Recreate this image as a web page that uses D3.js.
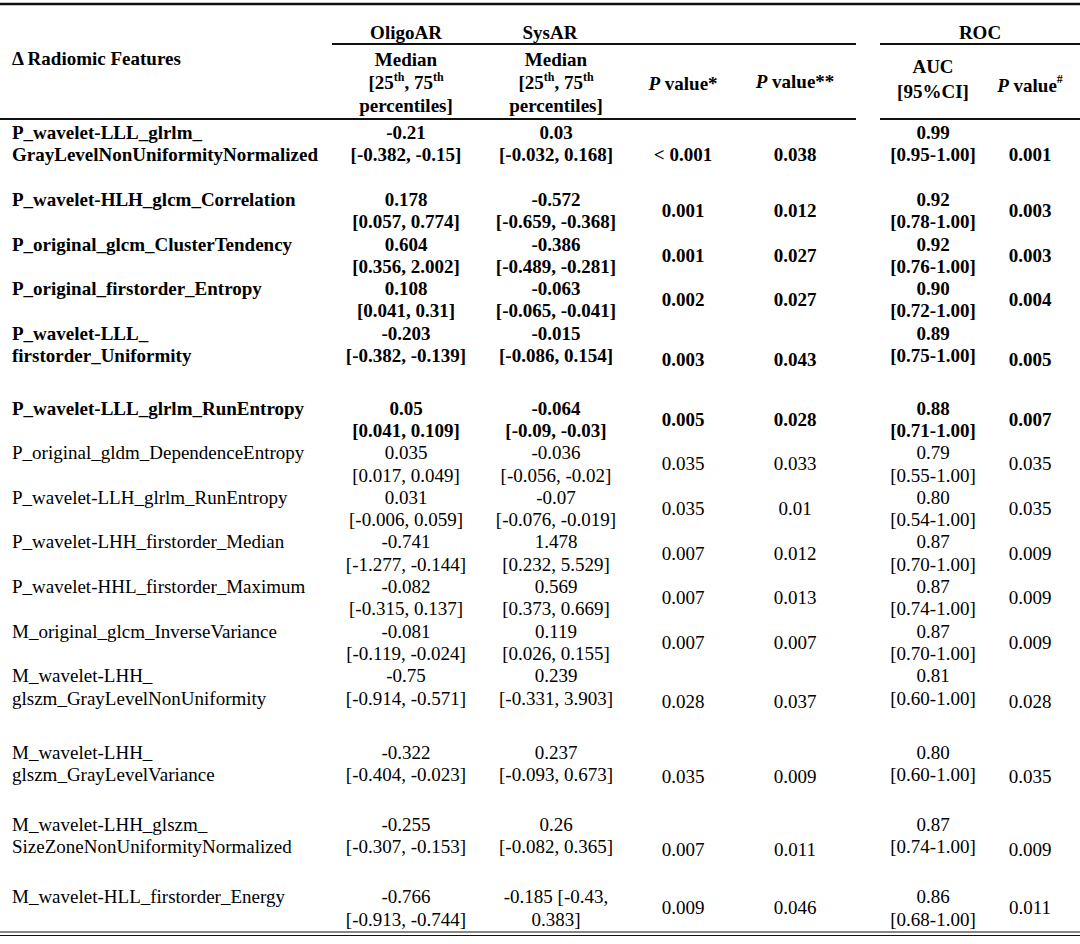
<!DOCTYPE html>
<html>
<head>
<meta charset="utf-8">
<script src="https://cdn.jsdelivr.net/npm/d3@7"></script>
<style>
  body { margin: 0; background: #fff; }
  text { font-family: "Liberation Serif", "Times New Roman", serif; fill: #000; }
</style>
</head>
<body>
<div id="table"></div>
<script>
// table values
const features = [
    "P_wavelet-LLL_glrlm_\nGrayLevelNonUniformityNormalized",
    "P_wavelet-HLH_glcm_Correlation",
    "P_original_glcm_ClusterTendency",
    "P_original_firstorder_Entropy",
    "P_wavelet-LLL_\nfirstorder_Uniformity",
    "P_wavelet-LLL_glrlm_RunEntropy",
    "P_original_gldm_DependenceEntropy",
    "P_wavelet-LLH_glrlm_RunEntropy",
    "P_wavelet-LHH_firstorder_Median",
    "P_wavelet-HHL_firstorder_Maximum",
    "M_original_glcm_InverseVariance",
    "M_wavelet-LHH_\nglszm_GrayLevelNonUniformity",
    "M_wavelet-LHH_\nglszm_GrayLevelVariance",
    "M_wavelet-LHH_glszm_\nSizeZoneNonUniformityNormalized",
    "M_wavelet-HLL_firstorder_Energy"
];
const significant = [true, true, true, true, true, true, false, false, false, false, false, false, false, false, false];
const oligoMedian = ["-0.21", "0.178", "0.604", "0.108", "-0.203", "0.05", "0.035", "0.031", "-0.741", "-0.082", "-0.081", "-0.75", "-0.322", "-0.255", "-0.766"];
const oligoIQR = ["[-0.382, -0.15]", "[0.057, 0.774]", "[0.356, 2.002]", "[0.041, 0.31]", "[-0.382, -0.139]", "[0.041, 0.109]", "[0.017, 0.049]", "[-0.006, 0.059]", "[-1.277, -0.144]", "[-0.315, 0.137]", "[-0.119, -0.024]", "[-0.914, -0.571]", "[-0.404, -0.023]", "[-0.307, -0.153]", "[-0.913, -0.744]"];
const sysMedian = ["0.03", "-0.572", "-0.386", "-0.063", "-0.015", "-0.064", "-0.036", "-0.07", "1.478", "0.569", "0.119", "0.239", "0.237", "0.26", "-0.185"];
const sysIQR = ["[-0.032, 0.168]", "[-0.659, -0.368]", "[-0.489, -0.281]", "[-0.065, -0.041]", "[-0.086, 0.154]", "[-0.09, -0.03]", "[-0.056, -0.02]", "[-0.076, -0.019]", "[0.232, 5.529]", "[0.373, 0.669]", "[0.026, 0.155]", "[-0.331, 3.903]", "[-0.093, 0.673]", "[-0.082, 0.365]", "[-0.43, 0.383]"];
const pStar = ["< 0.001", "0.001", "0.001", "0.002", "0.003", "0.005", "0.035", "0.035", "0.007", "0.007", "0.007", "0.028", "0.035", "0.007", "0.009"];
const pStar2 = ["0.038", "0.012", "0.027", "0.027", "0.043", "0.028", "0.033", "0.01", "0.012", "0.013", "0.007", "0.037", "0.009", "0.011", "0.046"];
const auc = ["0.99", "0.92", "0.92", "0.90", "0.89", "0.88", "0.79", "0.80", "0.87", "0.87", "0.87", "0.81", "0.80", "0.87", "0.86"];
const aucCI = ["[0.95-1.00]", "[0.78-1.00]", "[0.76-1.00]", "[0.72-1.00]", "[0.75-1.00]", "[0.71-1.00]", "[0.55-1.00]", "[0.54-1.00]", "[0.70-1.00]", "[0.74-1.00]", "[0.70-1.00]", "[0.60-1.00]", "[0.60-1.00]", "[0.74-1.00]", "[0.68-1.00]"];
const pRoc = ["0.001", "0.003", "0.003", "0.004", "0.005", "0.007", "0.035", "0.035", "0.009", "0.009", "0.009", "0.028", "0.035", "0.009", "0.011"];

// layout (in text lines): how tall each row is and where the p values sit
const rowSpan = [3, 2, 2, 2, 3.36, 2, 2, 2, 2, 2, 2, 3.45, 3.23, 3.23, 2];
const pOffset = [1, 0.5, 0.5, 0.5, 1.2, 0.5, 0.5, 0.5, 0.5, 0.5, 0.5, 1.15, 1.05, 1.1, 0.5];
const wrapSys = [false, false, false, false, false, false, false, false, false, false, false, false, false, false, true];

const svgWidth = 1080, svgHeight = 944;
const lineH = 22.3, firstLine = 133, fontSize = 19;

var svg = d3.select("#table")
    .append("svg")
    .attr("width", svgWidth)
    .attr("height", svgHeight);

// x of every column (centre, feature column is left aligned)
const colX = d3.scaleOrdinal()
    .domain(["feature", "oligo", "sys", "p1", "p2", "auc", "p3"])
    .range([12, 406, 556, 683, 795, 933, 1030]);

// y of text lines: cumulative line units -> pixels
const rowStart = d3.cumsum([0].concat(rowSpan.slice(0, -1)));
const totalUnits = d3.sum(rowSpan);
const yLine = d3.scaleLinear()
    .domain([0, totalUnits])
    .range([firstLine, firstLine + totalUnits * lineH]);
const baseShift = 6;   // centre of digits -> baseline

draw_rules(svg);
draw_header(svg);
draw_rows(svg);

function draw_rules(svg) {
    const rules = [
        {x1: 0, x2: 1080, y: 4, w: 2.5},
        {x1: 332, x2: 856, y: 44, w: 1.8},
        {x1: 880, x2: 1080, y: 44, w: 1.8},
        {x1: 0, x2: 856, y: 119, w: 2},
        {x1: 880, x2: 1080, y: 119, w: 2},
        {x1: 0, x2: 1080, y: 932, w: 1.2},
        {x1: 0, x2: 1080, y: 935.5, w: 1.2}
    ];
    svg.selectAll(".rule")
        .data(rules)
        .join("line")
        .attr("class", "rule")
        .attr("x1", d => d.x1)
        .attr("x2", d => d.x2)
        .attr("y1", d => d.y)
        .attr("y2", d => d.y)
        .attr("stroke", "#111")
        .attr("stroke-width", d => d.w);
}

function hText(svg, x, y, anchor) {
    return svg.append("text")
        .attr("x", x)
        .attr("y", y)
        .attr("text-anchor", anchor || "middle")
        .style("font-size", fontSize + "px")
        .style("font-weight", "bold");
}

function draw_header(svg) {
    hText(svg, colX("oligo"), 39).text("OligoAR");
    hText(svg, colX("sys") - 6, 39).text("SysAR");
    hText(svg, 980, 39).text("ROC");
    hText(svg, colX("feature"), 65, "start").text("\u0394 Radiomic Features");

    ["oligo", "sys"].forEach(c => {
        hText(svg, colX(c), 66).text("Median");
        let t = hText(svg, colX(c), 89);
        t.append("tspan").text("[25");
        t.append("tspan").attr("dy", -8).style("font-size", "12px").text("th");
        t.append("tspan").attr("dy", 8).text(", 75");
        t.append("tspan").attr("dy", -8).style("font-size", "12px").text("th");
        hText(svg, colX(c), 112).text("percentiles]");
    });

    let p1 = hText(svg, colX("p1"), 90);
    p1.append("tspan").style("font-style", "italic").text("P");
    p1.append("tspan").text(" value*");

    let p2 = hText(svg, colX("p2"), 88);
    p2.append("tspan").style("font-style", "italic").text("P");
    p2.append("tspan").text(" value**");

    hText(svg, colX("auc"), 73).text("AUC");
    hText(svg, colX("auc"), 98).text("[95%CI]");

    let p3 = hText(svg, colX("p3"), 92);
    p3.append("tspan").style("font-style", "italic").text("P");
    p3.append("tspan").text(" value");
    p3.append("tspan").attr("dy", -9).style("font-size", "12px").text("#");
}

function draw_rows(svg) {
    const rows = features.map((f, i) => ({
        i: i,
        label: f.split("\n"),
        oligo: [oligoMedian[i], oligoIQR[i]],
        sys: wrapSys[i]
            ? [sysMedian[i] + " " + sysIQR[i].split(" ")[0], sysIQR[i].split(" ")[1]]
            : [sysMedian[i], sysIQR[i]],
        auc: [auc[i], aucCI[i]],
        p: [pStar[i], pStar2[i], pRoc[i]],
        bold: significant[i]
    }));

    var row = svg.selectAll(".row")
        .data(rows)
        .join("g")
        .attr("class", "row")
        .style("font-size", fontSize + "px")
        .style("font-weight", d => d.bold ? "bold" : "normal");

    // multi-line cells
    const cells = [
        {key: "feature", get: d => d.label, anchor: "start"},
        {key: "oligo", get: d => d.oligo, anchor: "middle"},
        {key: "sys", get: d => d.sys, anchor: "middle"},
        {key: "auc", get: d => d.auc, anchor: "middle"}
    ];
    cells.forEach(c => {
        row.each(function(d) {
            d3.select(this).selectAll(".c-" + c.key)
                .data(c.get(d))
                .join("text")
                .attr("class", "c-" + c.key)
                .attr("x", colX(c.key))
                .attr("y", (s, j) => yLine(rowStart[d.i] + j) + baseShift)
                .attr("text-anchor", c.anchor)
                .text(s => s);
        });
    });

    // p values, one line, vertically placed by pOffset
    ["p1", "p2", "p3"].forEach((k, n) => {
        row.append("text")
            .attr("x", colX(k))
            .attr("y", d => yLine(rowStart[d.i] + pOffset[d.i]) + baseShift)
            .attr("text-anchor", "middle")
            .text(d => d.p[n]);
    });
}
</script>
</body>
</html>
